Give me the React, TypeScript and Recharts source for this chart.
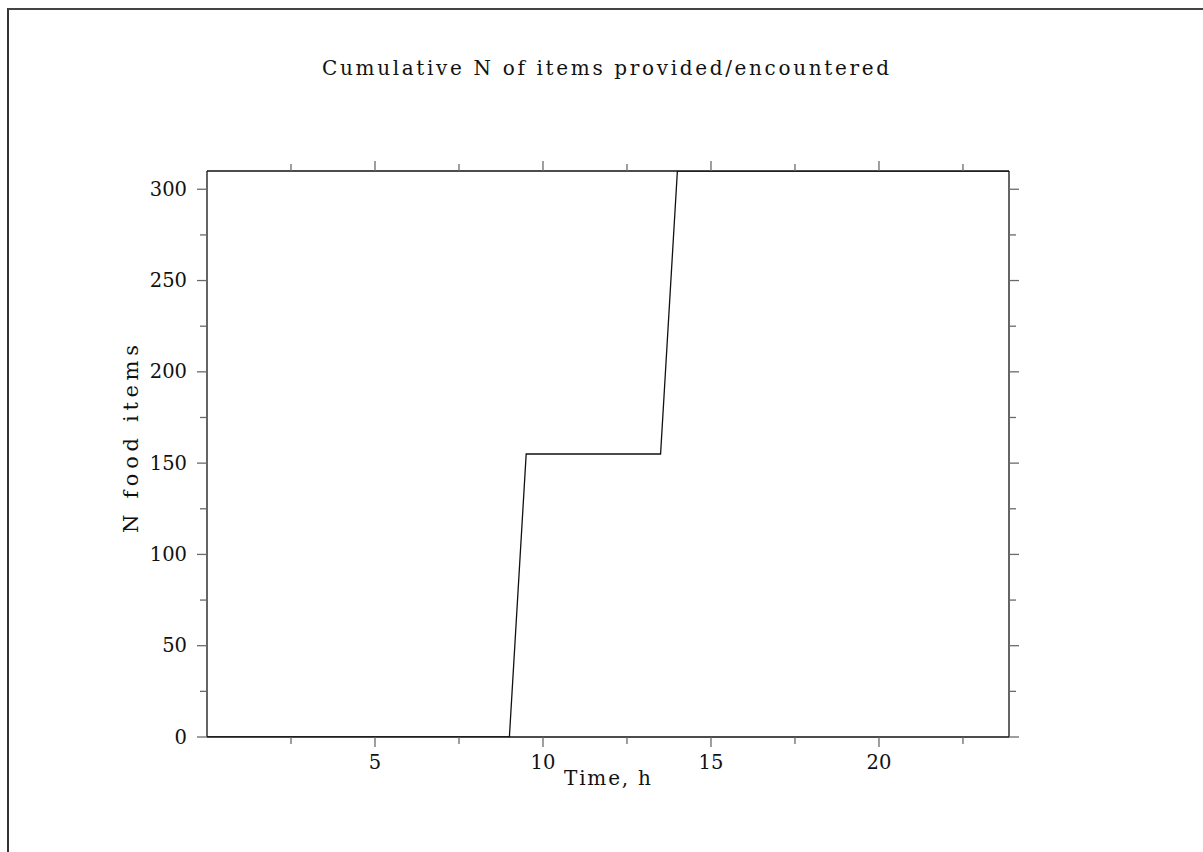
import React from 'react';
import { LineChart, Line, XAxis, YAxis, Label } from 'recharts';

const timeHours = [0, 9, 9.5, 13.5, 14, 23.87];
const cumulativeItems = [0, 0, 155, 155, 310, 310];
const xTicks = [2.5, 5, 7.5, 10, 12.5, 15, 17.5, 20, 22.5];
const yTicks = [0, 25, 50, 75, 100, 125, 150, 175, 200, 225, 250, 275, 300];
const xMajorStep = 5;
const yMajorStep = 50;
const titleText = 'Cumulative N of items provided/encountered';
const xLabelText = 'Time, h';
const yLabelText = 'N food items';

const data = timeHours.map((t, i) => ({ t, n: cumulativeItems[i] }));

const FONT = '"DejaVu Serif", serif';
const TICK_COLOR = '#6a6a6a';
const AXIS_COLOR = '#111';

const makeTick = (orientation: 'left' | 'right' | 'top' | 'bottom', step: number, showLabel: boolean) =>
  (props: any) => {
    const { x, y, payload } = props;
    const v = payload.value;
    const major = Math.abs(v / step - Math.round(v / step)) < 1e-6;
    const len = major ? 10 : 7;
    let line;
    if (orientation === 'left') line = <line x1={x} y1={y} x2={x - len} y2={y} stroke={TICK_COLOR} strokeWidth={1.3} />;
    else if (orientation === 'right') line = <line x1={x} y1={y} x2={x + len} y2={y} stroke={TICK_COLOR} strokeWidth={1.3} />;
    else if (orientation === 'top') line = <line x1={x} y1={y} x2={x} y2={y - len} stroke={TICK_COLOR} strokeWidth={1.3} />;
    else line = <line x1={x} y1={y} x2={x} y2={y + len} stroke={TICK_COLOR} strokeWidth={1.3} />;
    let label = null;
    if (showLabel && major) {
      if (orientation === 'left') {
        label = (
          <text x={x - 20} y={y} textAnchor="end" dominantBaseline="central" fontFamily={FONT} fontSize={19.5} fill="#111">
            {v}
          </text>
        );
      } else if (orientation === 'bottom') {
        label = (
          <text x={x} y={y + 25} textAnchor="middle" dominantBaseline="central" fontFamily={FONT} fontSize={19.5} fill="#111">
            {v}
          </text>
        );
      }
    }
    return (
      <g>
        {line}
        {label}
      </g>
    );
  };

export default function App() {
  return (
    <div style={{ position: 'absolute', left: 0, top: 0, width: 1203, height: 852, background: '#fff' }}>
      <div
        style={{
          position: 'absolute',
          left: 7,
          top: 8,
          width: 1196,
          height: 844,
          borderTop: '2px solid #444',
          borderLeft: '2px solid #333',
          boxSizing: 'border-box',
        }}
      />
      <div style={{ position: 'absolute', left: 0, top: 0 }}>
        <LineChart
          width={1203}
          height={852}
          data={data}
          margin={{ top: 151, left: 147, right: 174, bottom: 75 }}
        >
          <text
            x={605.5}
            y={75}
            textAnchor="middle"
            fontFamily={FONT}
            fontSize={20}
            textLength={567}
            lengthAdjust="spacing"
            fill="#111"
          >
            {titleText}
          </text>
          <XAxis
            xAxisId="b"
            dataKey="t"
            type="number"
            domain={[0, 23.87]}
            ticks={xTicks}
            interval={0}
            orientation="bottom"
            height={40}
            tickSize={0}
            tickMargin={0}
            tickLine={false}
            axisLine={{ stroke: AXIS_COLOR, strokeWidth: 1.3 }}
            tick={makeTick('bottom', xMajorStep, true)}
            allowDataOverflow
          >
            <Label
              content={() => (
                <text
                  x={607.5}
                  y={785}
                  textAnchor="middle"
                  fontFamily={FONT}
                  fontSize={20}
                  textLength={87}
                  lengthAdjust="spacing"
                  fill="#111"
                >
                  {xLabelText}
                </text>
              )}
            />
          </XAxis>
          <XAxis
            xAxisId="t"
            dataKey="t"
            type="number"
            domain={[0, 23.87]}
            ticks={xTicks}
            interval={0}
            orientation="top"
            height={20}
            tickSize={0}
            tickMargin={0}
            tickLine={false}
            axisLine={{ stroke: AXIS_COLOR, strokeWidth: 1.3 }}
            tick={makeTick('top', xMajorStep, false)}
            allowDataOverflow
          />
          <YAxis
            yAxisId="l"
            type="number"
            domain={[0, 310]}
            ticks={yTicks}
            interval={0}
            orientation="left"
            width={60}
            tickSize={0}
            tickMargin={0}
            tickLine={false}
            axisLine={{ stroke: AXIS_COLOR, strokeWidth: 1.3 }}
            tick={makeTick('left', yMajorStep, true)}
            allowDataOverflow
          >
            <Label
              content={() => (
                <text
                  x={131}
                  y={439}
                  transform="rotate(-90, 131, 439)"
                  textAnchor="middle"
                  dominantBaseline="central"
                  fontFamily={FONT}
                  fontSize={21}
                  textLength={188}
                  lengthAdjust="spacing"
                  fill="#111"
                >
                  {yLabelText}
                </text>
              )}
            />
          </YAxis>
          <YAxis
            yAxisId="r"
            type="number"
            domain={[0, 310]}
            ticks={yTicks}
            interval={0}
            orientation="right"
            width={20}
            tickSize={0}
            tickMargin={0}
            tickLine={false}
            axisLine={{ stroke: AXIS_COLOR, strokeWidth: 1.3 }}
            tick={makeTick('right', yMajorStep, false)}
            allowDataOverflow
          />
          <Line
            xAxisId="b"
            yAxisId="l"
            dataKey="n"
            type="linear"
            stroke="#111"
            strokeWidth={1.3}
            dot={false}
            isAnimationActive={false}
          />
        </LineChart>
      </div>
    </div>
  );
}
